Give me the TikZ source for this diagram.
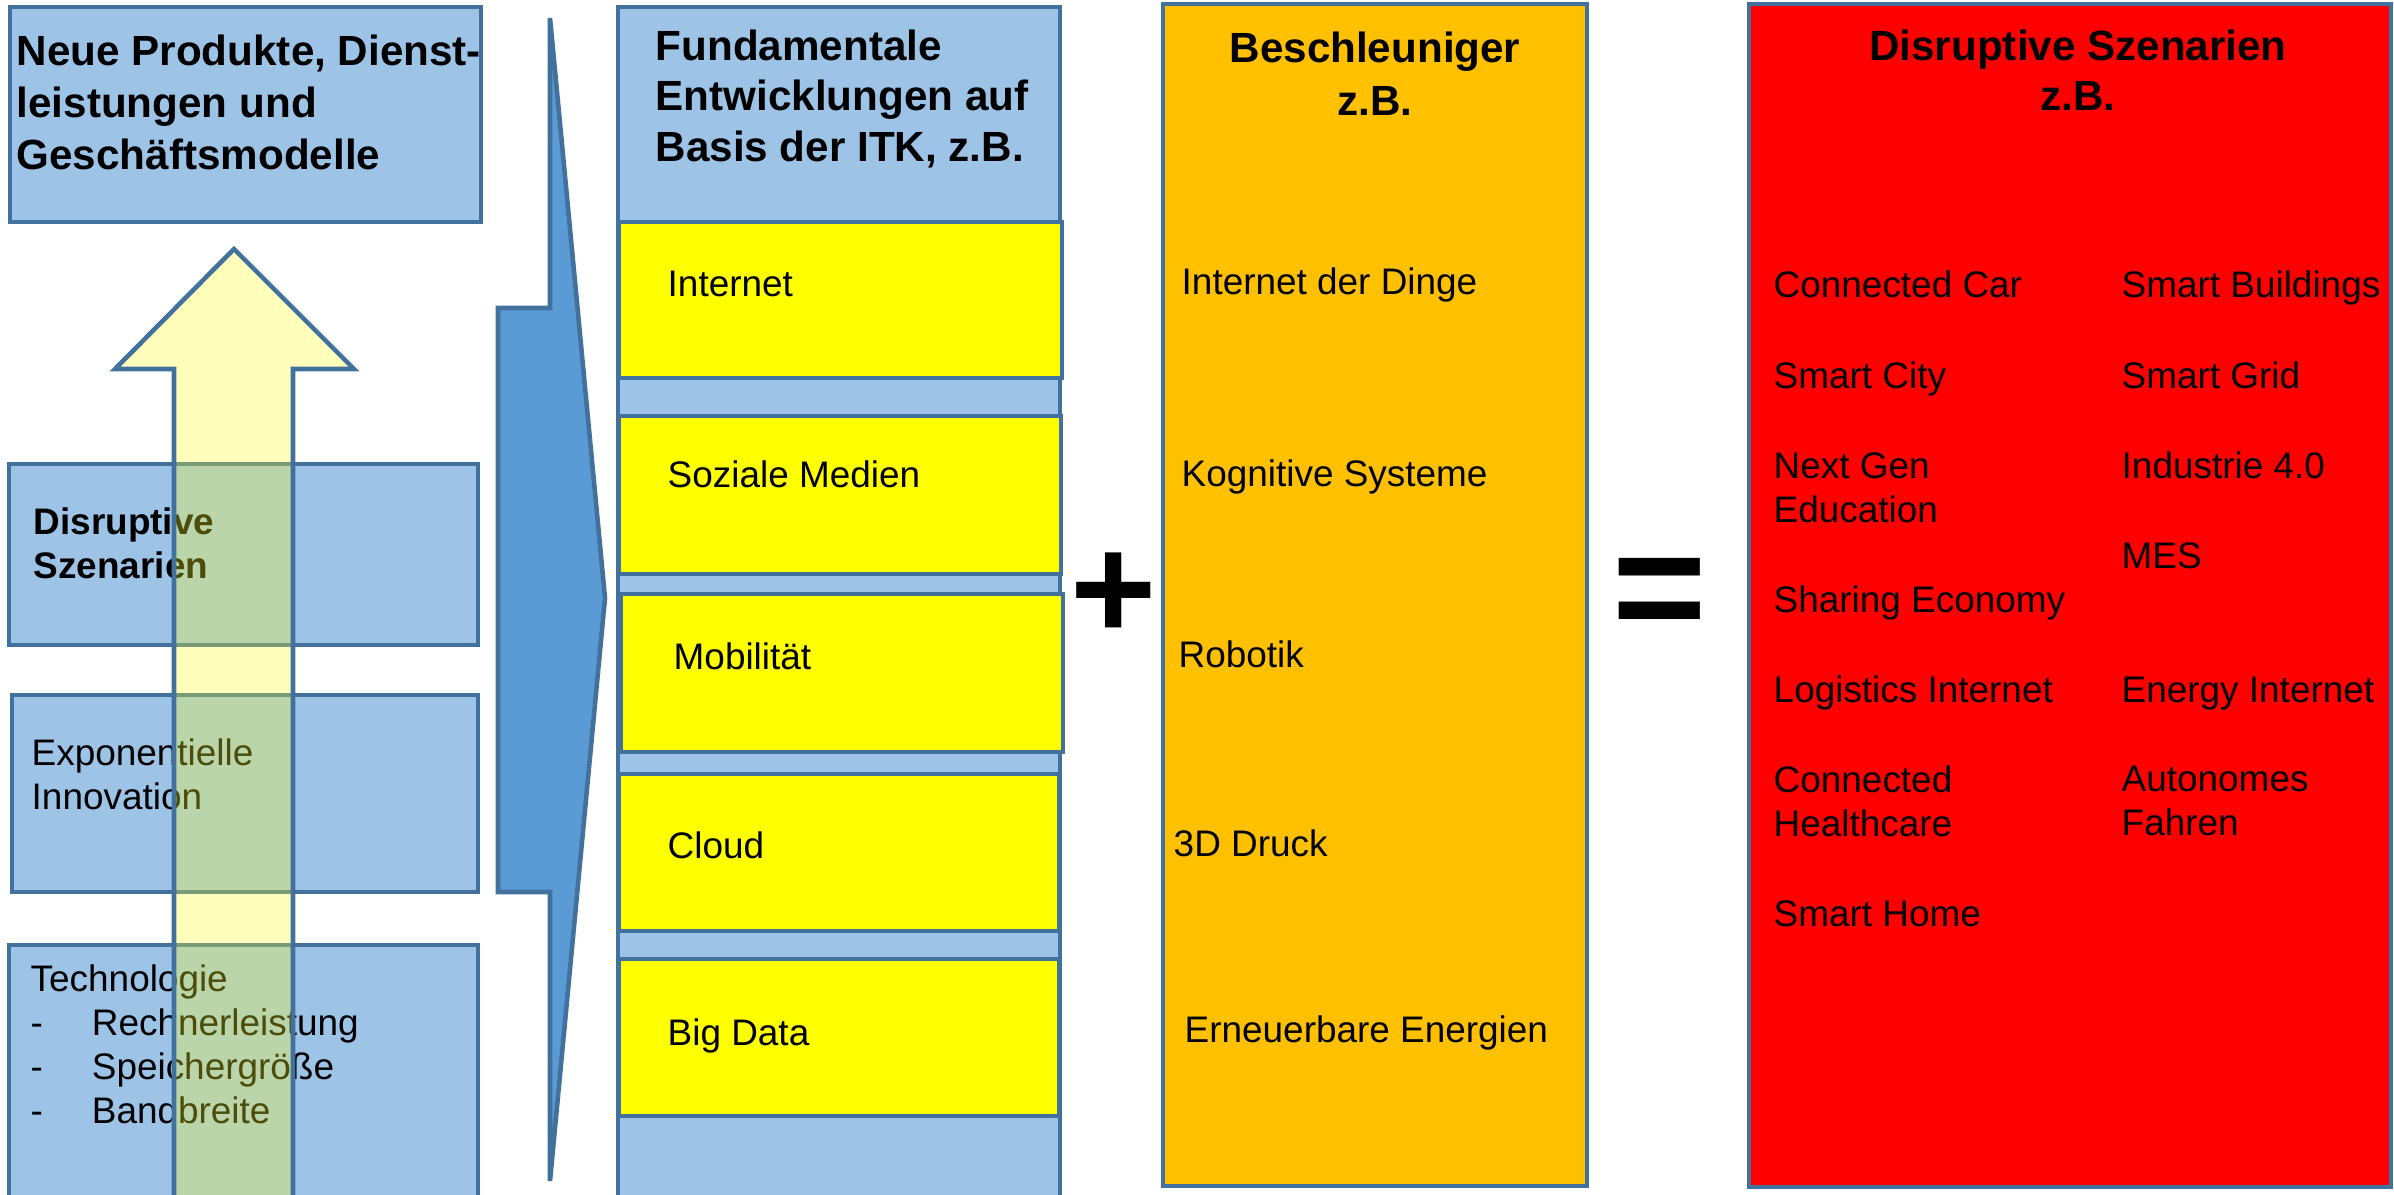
\documentclass[tikz,border=0pt]{standalone}
\usepackage{fontspec}
\setmainfont{Liberation Sans}
\definecolor{lblue}{HTML}{9DC3E6}
\definecolor{bordc}{HTML}{41719C}
\definecolor{chev}{HTML}{5B9BD5}
\definecolor{gold}{HTML}{FFC000}
\definecolor{arrowy}{RGB}{255,255,30}
\definecolor{yel}{RGB}{255,255,0}
\newcommand\itemdash{\makebox[17.4pt][l]{-}}
\begin{document}
\begin{tikzpicture}[x=0.01cm,y=-0.01cm,
  bord/.style={draw=bordc, line width=1.3pt},
  lbox/.style={bord, fill=lblue},
  ybox/.style={bord, fill=yel},
  rtxt/.style={inner sep=0, font=\fontsize{10.5}{12.5}\selectfont, anchor=base west},
  mtxt/.style={inner sep=0, font=\fontsize{10.5}{12.5}\selectfont, align=left, anchor=north west},
  btxt/.style={inner sep=0, font=\fontsize{12}{14.3}\selectfont\bfseries, align=left, anchor=north west},
  htxt/.style={inner sep=0, font=\fontsize{12}{14.6}\selectfont\bfseries, align=center, anchor=north},
  optxt/.style={inner sep=0, font=\fontsize{42}{42}\selectfont\bfseries}]
\useasboundingbox (0,0) rectangle (2394,1195);

% left column boxes
\draw[lbox] (10,7) rectangle (481,222);
\draw[lbox] (9,464) rectangle (478,645);
\draw[lbox] (12,695) rectangle (478,892);
\draw[lbox] (9,945) rectangle (478,1215);
\node[btxt, font=\fontsize{12}{14.8}\selectfont\bfseries] (neue) at (16,34) {Neue Produkte, Dienst-\\leistungen und\\Geschäftsmodelle};
\node[btxt, font=\fontsize{10.5}{12.5}\selectfont\bfseries] (disl) at (33,507) {Disruptive\\Szenarien};
\node[mtxt] (expo) at (31,738) {Exponentielle\\Innovation};
\node[mtxt] (tech) at (30,964) {Technologie\\\itemdash Rechnerleistung\\\itemdash Speichergröße\\\itemdash Bandbreite};

% yellow up arrow (semi-transparent)
\draw[bord, fill=arrowy, fill opacity=0.3] (174,1215) -- (174,369) -- (115,369) -- (234,249)
  -- (354,369) -- (293,369) -- (293,1215) -- cycle;

% chevron
\draw[bord, fill=chev, line join=miter] (550,18) -- (550,308) -- (498,308) -- (498,892)
  -- (550,892) -- (550,1181) -- (605,598) -- cycle;

% Fundamentale column
\draw[lbox] (618,7) rectangle (1060,1215);
\draw[ybox] (619,222) rectangle (1062,378);
\draw[ybox] (619,416) rectangle (1061,574);
\draw[ybox] (621,594) rectangle (1063,752);
\draw[ybox] (619,774) rectangle (1059,931);
\draw[ybox] (619,959) rectangle (1059,1116);
\node[btxt, font=\fontsize{12}{14.4}\selectfont\bfseries] (fund) at (655,29) {Fundamentale\\Entwicklungen auf\\Basis der ITK, z.B.};
\node[rtxt] (inet) at (667,297) {Internet};
\node[rtxt] (sozm) at (667,488) {Soziale Medien};
\node[rtxt] (mobi) at (673,670) {Mobilität};
\node[rtxt] (clou) at (667,859) {Cloud};
\node[rtxt] (bigd) at (667,1045) {Big Data};

% operators
\node[optxt] (plus) at (1114,596) {+};
\node[optxt, font=\fontsize{46}{46}\selectfont\bfseries] (eq) at (1660,600) {=};

% Beschleuniger
\draw[bord, fill=gold] (1163,4) rectangle (1587,1186);
\node[htxt, font=\fontsize{12}{15.1}\selectfont\bfseries] (besch) at (1375,31) {Beschleuniger\\z.B.};
\node[rtxt] (iotd) at (1181,295) {Internet der Dinge};
\node[rtxt] (kogn) at (1181,487) {Kognitive Systeme};
\node[rtxt] (robo) at (1178,668) {Robotik};
\node[rtxt] (druck) at (1173,857) {3D Druck};
\node[rtxt] (ener) at (1184,1042) {Erneuerbare Energien};

% Disruptive Szenarien (red)
\draw[bord, fill=red] (1749,4) rectangle (2391,1187);
\node[htxt, font=\fontsize{12}{14.2}\selectfont\bfseries] (disr) at (2078,29) {Disruptive Szenarien\\z.B.};
\node[rtxt] (ccar) at (1773,298) {Connected Car};
\node[rtxt] (scity) at (1773,389) {Smart City};
\node[mtxt] (ngen) at (1773,452) {Next Gen\\Education};
\node[rtxt] (share) at (1773,613) {Sharing Economy};
\node[rtxt] (logi) at (1773,703) {Logistics Internet};
\node[mtxt] (chealth) at (1773,765) {Connected\\Healthcare};
\node[rtxt] (shome) at (1773,926) {Smart Home};
\node[rtxt] (sbuild) at (2121,298) {Smart Buildings};
\node[rtxt] (sgrid) at (2121,389) {Smart Grid};
\node[rtxt] (indu) at (2121,479) {Industrie 4.0};
\node[rtxt] (mes) at (2121,569) {MES};
\node[rtxt] (enin) at (2121,703) {Energy Internet};
\node[mtxt] (auto) at (2121,765) {Autonomes\\Fahren};
\end{tikzpicture}
\end{document}
